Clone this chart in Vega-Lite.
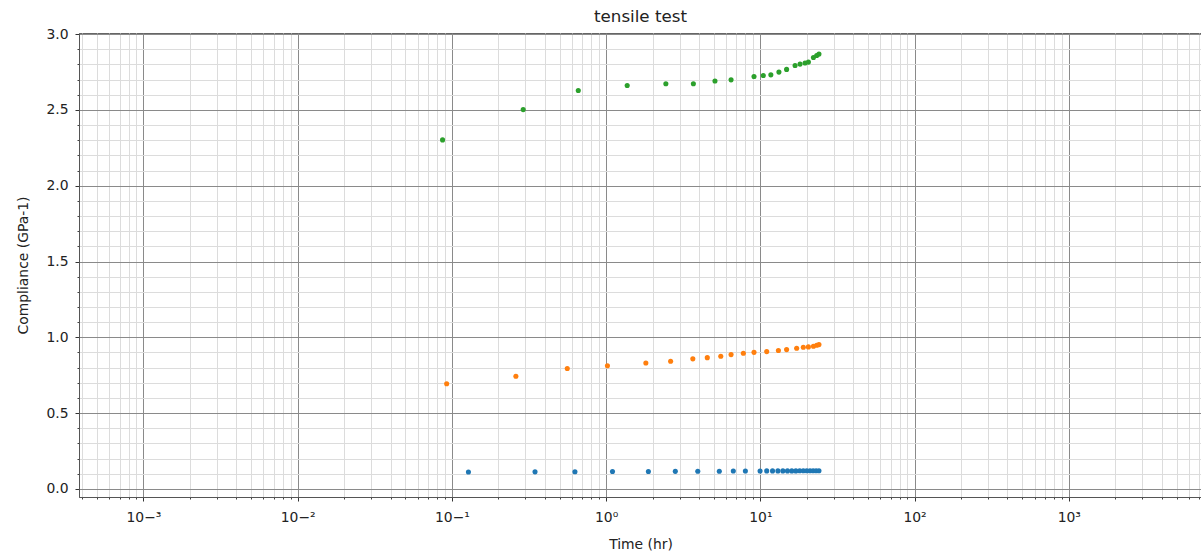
{
  "$schema": "https://vega.github.io/schema/vega-lite/v6.json",
  "autosize": {"type": "none"},
  "padding": {"left": 79, "top": 33, "right": 0, "bottom": 59},
  "width": 1123,
  "height": 464,
  "background": "white",
  "title": {"text": "tensile test", "fontSize": 16.7, "fontWeight": "normal", "font": "DejaVu Sans", "color": "#222", "offset": 1},
  "config": {
    "view": {"stroke": "#666", "strokeWidth": 1},
    "axis": {"labelFont": "DejaVu Sans", "titleFont": "DejaVu Sans", "labelFontSize": 13.9, "titleFontSize": 13.9, "labelColor": "#222", "titleColor": "#222", "titleFontWeight": "normal", "tickColor": "#333", "domainColor": "#666"}
  },
  "data": {"values": [
    {"t": 0.128, "c": 0.112, "s": "A"}, {"t": 0.346, "c": 0.113, "s": "A"}, {"t": 0.628, "c": 0.114, "s": "A"}, {"t": 1.10, "c": 0.115, "s": "A"}, {"t": 1.88, "c": 0.115, "s": "A"}, {"t": 2.81, "c": 0.116, "s": "A"}, {"t": 3.93, "c": 0.117, "s": "A"}, {"t": 5.42, "c": 0.117, "s": "A"}, {"t": 6.68, "c": 0.118, "s": "A"}, {"t": 8.0, "c": 0.118, "s": "A"}, {"t": 9.96, "c": 0.118, "s": "A"}, {"t": 11, "c": 0.119, "s": "A"}, {"t": 12, "c": 0.119, "s": "A"}, {"t": 13, "c": 0.119, "s": "A"}, {"t": 14, "c": 0.119, "s": "A"}, {"t": 15, "c": 0.119, "s": "A"}, {"t": 16, "c": 0.119, "s": "A"}, {"t": 17, "c": 0.119, "s": "A"}, {"t": 18, "c": 0.12, "s": "A"}, {"t": 19, "c": 0.12, "s": "A"}, {"t": 20, "c": 0.12, "s": "A"}, {"t": 21, "c": 0.12, "s": "A"}, {"t": 22, "c": 0.12, "s": "A"}, {"t": 23, "c": 0.12, "s": "A"}, {"t": 24, "c": 0.12, "s": "A"},
    {"t": 0.0925, "c": 0.694, "s": "B"}, {"t": 0.26, "c": 0.743, "s": "B"}, {"t": 0.56, "c": 0.794, "s": "B"}, {"t": 1.02, "c": 0.813, "s": "B"}, {"t": 1.81, "c": 0.831, "s": "B"}, {"t": 2.62, "c": 0.842, "s": "B"}, {"t": 3.65, "c": 0.858, "s": "B"}, {"t": 4.53, "c": 0.866, "s": "B"}, {"t": 5.54, "c": 0.875, "s": "B"}, {"t": 6.46, "c": 0.886, "s": "B"}, {"t": 7.76, "c": 0.895, "s": "B"}, {"t": 9.1, "c": 0.901, "s": "B"}, {"t": 11.0, "c": 0.906, "s": "B"}, {"t": 13.1, "c": 0.913, "s": "B"}, {"t": 14.8, "c": 0.919, "s": "B"}, {"t": 17.2, "c": 0.928, "s": "B"}, {"t": 19.0, "c": 0.935, "s": "B"}, {"t": 20.5, "c": 0.937, "s": "B"}, {"t": 22.1, "c": 0.941, "s": "B"}, {"t": 23.2, "c": 0.948, "s": "B"}, {"t": 24.0, "c": 0.952, "s": "B"},
    {"t": 0.087, "c": 2.302, "s": "C"}, {"t": 0.29, "c": 2.502, "s": "C"}, {"t": 0.66, "c": 2.628, "s": "C"}, {"t": 1.37, "c": 2.661, "s": "C"}, {"t": 2.44, "c": 2.672, "s": "C"}, {"t": 3.68, "c": 2.672, "s": "C"}, {"t": 5.08, "c": 2.69, "s": "C"}, {"t": 6.46, "c": 2.698, "s": "C"}, {"t": 9.1, "c": 2.72, "s": "C"}, {"t": 10.45, "c": 2.727, "s": "C"}, {"t": 11.7, "c": 2.731, "s": "C"}, {"t": 13.2, "c": 2.749, "s": "C"}, {"t": 14.8, "c": 2.767, "s": "C"}, {"t": 16.8, "c": 2.793, "s": "C"}, {"t": 18.1, "c": 2.802, "s": "C"}, {"t": 19.5, "c": 2.809, "s": "C"}, {"t": 20.5, "c": 2.815, "s": "C"}, {"t": 22.1, "c": 2.845, "s": "C"}, {"t": 23.2, "c": 2.859, "s": "C"}, {"t": 24.0, "c": 2.868, "s": "C"}
  ]},
  "layer": [
    {
      "mark": {"type": "point", "opacity": 0},
      "encoding": {
        "x": {"field": "t", "type": "quantitative", "scale": {"type": "log", "domain": [0.000382, 7310], "nice": false},
          "axis": {"orient": "bottom", "title": null, "labels": false, "domain": false, "tickSize": 2, "tickColor": "#444", "grid": true, "gridColor": "#dcdcdc", "gridWidth": 1,
            "values": [0.0004,0.0005,0.0006,0.0007,0.0008,0.0009,0.002,0.003,0.004,0.005,0.006,0.007,0.008,0.009,0.02,0.03,0.04,0.05,0.06,0.07,0.08,0.09,0.2,0.3,0.4,0.5,0.6,0.7,0.8,0.9,2,3,4,5,6,7,8,9,20,30,40,50,60,70,80,90,200,300,400,500,600,700,800,900,2000,3000,4000,5000,6000,7000]}},
        "y": {"field": "c", "type": "quantitative", "scale": {"domain": [-0.053, 3.007], "nice": false, "zero": false},
          "axis": {"orient": "left", "title": null, "labels": false, "domain": false, "tickSize": 2, "tickColor": "#444", "grid": true, "gridColor": "#dcdcdc", "gridWidth": 1,
            "values": [0.1,0.2,0.3,0.4,0.6,0.7,0.8,0.9,1.1,1.2,1.3,1.4,1.6,1.7,1.8,1.9,2.1,2.2,2.3,2.4,2.6,2.7,2.8,2.9]}}
      }
    },
    {
      "mark": {"type": "circle", "size": 26, "opacity": 1},
      "encoding": {
        "x": {"field": "t", "type": "quantitative", "scale": {"type": "log", "domain": [0.000382, 7310], "nice": false},
          "axis": {"orient": "bottom", "title": "Time (hr)", "titlePadding": 14, "labelPadding": 9, "tickSize": 4, "grid": true, "gridColor": "#8a8a8a", "gridWidth": 1, "domainColor": "#555",
            "values": [0.001, 0.01, 0.1, 1, 10, 100, 1000],
            "labelExpr": "'10' + replace(replace(replace(replace(replace(format(log(datum.value)/LN10, 'd'), '-', '⁻'), '0', '⁰'), '1', '¹'), '2', '²'), '3', '³')"}},
        "y": {"field": "c", "type": "quantitative", "scale": {"domain": [-0.053, 3.007], "nice": false, "zero": false},
          "axis": {"orient": "left", "title": "Compliance (GPa-1)", "titlePadding": 15, "labelPadding": 7, "tickSize": 4, "format": ".1f", "grid": true, "gridColor": "#8a8a8a", "gridWidth": 1, "domainColor": "#555",
            "values": [0, 0.5, 1, 1.5, 2, 2.5, 3]}},
        "color": {"field": "s", "type": "nominal", "scale": {"domain": ["A", "B", "C"], "range": ["#1f77b4", "#ff7f0e", "#2ca02c"]}, "legend": null}
      }
    }
  ],
  "resolve": {"scale": {"x": "shared", "y": "shared"}, "axis": {"x": "independent", "y": "independent"}}
}
